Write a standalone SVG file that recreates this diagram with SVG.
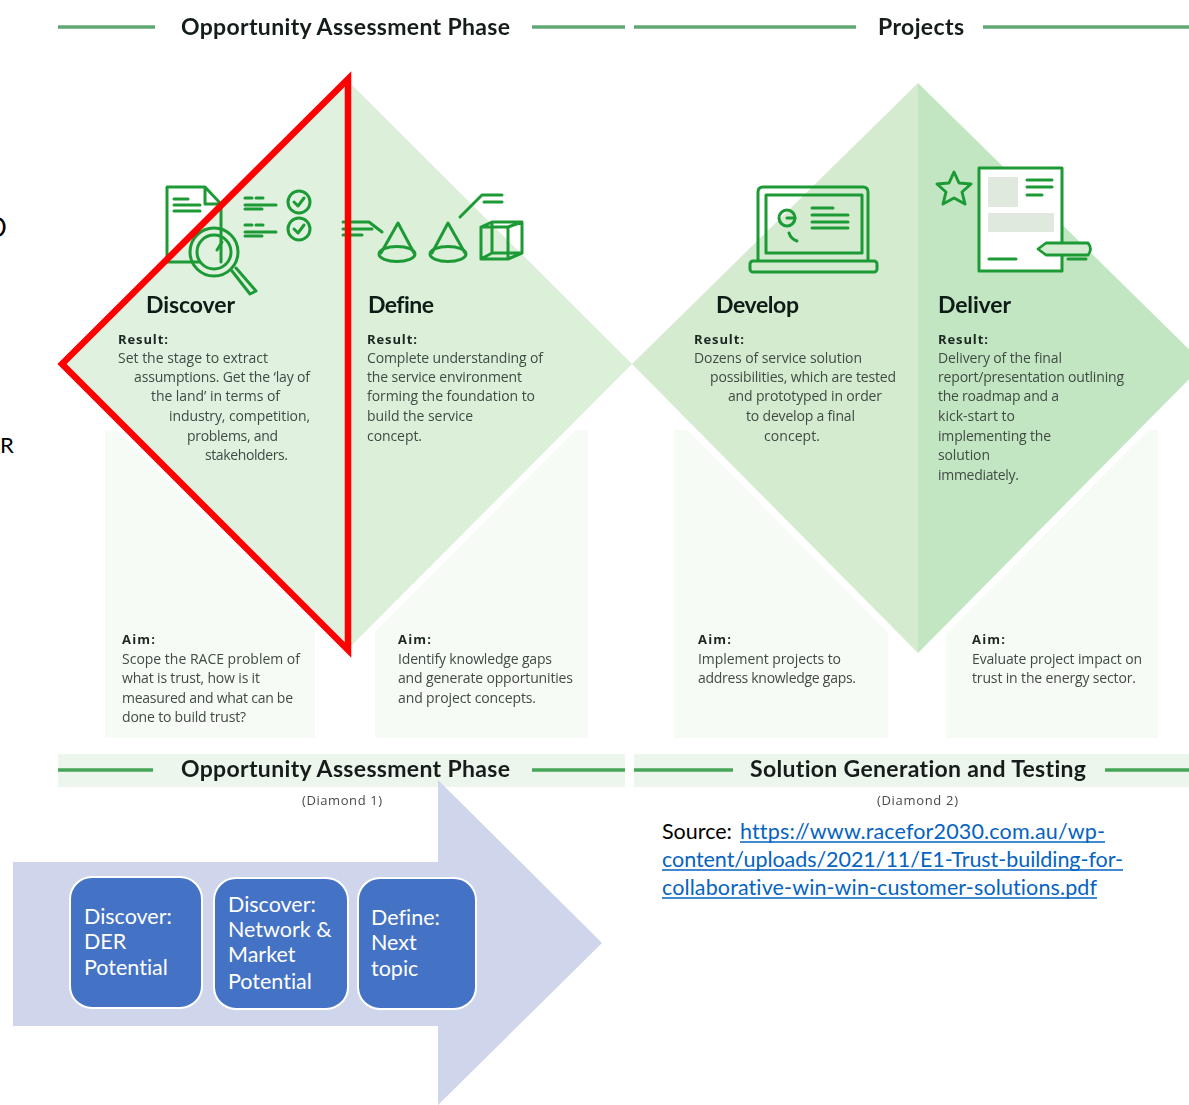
<svg xmlns="http://www.w3.org/2000/svg" width="1189" height="1105" viewBox="0 0 1189 1105">
<style>
text{font-family:"Open Sans","Liberation Sans",sans-serif;font-variant-ligatures:none}
.h{font-family:Lato,"Liberation Sans",sans-serif;font-weight:700;font-size:23px;fill:#141f1a}
.t{font-family:Lato,"Liberation Sans",sans-serif;font-weight:700;font-size:23px;fill:#101c17}
.r{font-size:13px;font-weight:700;fill:#1c2621}
.b{font-size:14px;fill:#414b45}
.d{font-size:13px;fill:#4a4a4a}
.w{font-family:Lato,"Liberation Sans",sans-serif;font-size:21.5px;fill:#fff}
.s{font-family:Lato,"Liberation Sans",sans-serif;font-size:21.5px;fill:#000}
.l{font-family:Lato,"Liberation Sans",sans-serif;font-size:21.5px;fill:#0563c1}
.i{fill:none;stroke:#1f9a35;stroke-width:3;stroke-linejoin:round;stroke-linecap:round}
.rule{stroke:#5fa873;stroke-width:3.5}
.rule2{stroke:#45a658;stroke-width:3.5}
.panel{fill:#f6fbf5}
.box{fill:#4472c4;stroke:#fff;stroke-width:2}
</style>
<defs><filter id="soft" x="-5%" y="-5%" width="110%" height="110%"><feGaussianBlur stdDeviation="0.6"/></filter></defs>
<rect width="1189" height="1105" fill="#fff"/>
<g id="phase-image" filter="url(#soft)">
<g id="aim-panels">
<rect class="panel" x="105" y="430" width="210" height="308"/>
<rect class="panel" x="375" y="430" width="213" height="308"/>
<rect class="panel" x="674" y="430" width="214" height="308"/>
<rect class="panel" x="946" y="430" width="212" height="308"/>
<path d="M60 364L347 650L632 364L918 653L1204 364" fill="none" stroke="#fff" stroke-width="14"/>
<path d="M90 394V440H105ZM604 392L570 430H604ZM660 392V430H690ZM1176 392L1140 430H1176Z" fill="#fff"/>
<rect x="315" y="640" width="60" height="100" fill="#fff"/>
<rect x="888" y="655" width="58" height="85" fill="#fff"/>
</g>
<g id="diamond-1">
<path d="M60 364L347 80V650Z" fill="#e0f1e0"/>
<path d="M347 80L632 364L347 650Z" fill="#dbefd9"/>
</g>
<g id="diamond-2">
<path d="M632 364L918 83V653Z" fill="#d4ebd0"/>
<path d="M918 83L1204 364L918 653Z" fill="#c3e6c2"/>
</g>
<g id="header-top">
<line class="rule" x1="58" y1="27" x2="155" y2="27"/>
<line class="rule" x1="532" y1="27" x2="625" y2="27"/>
<line class="rule" x1="634" y1="27" x2="856" y2="27"/>
<line class="rule" x1="983" y1="27" x2="1189" y2="27"/>
<text class="h" x="181" y="35" textLength="329">Opportunity Assessment Phase</text>
<text class="h" x="878" y="35" textLength="86">Projects</text>
</g>
<g id="header-bottom">
<rect x="58" y="754" width="567" height="33" fill="#edf6ec"/>
<rect x="634" y="754" width="555" height="33" fill="#edf6ec"/>
<line class="rule2" x1="58" y1="770" x2="153" y2="770"/>
<line class="rule2" x1="532" y1="770" x2="625" y2="770"/>
<line class="rule2" x1="634" y1="770" x2="733" y2="770"/>
<line class="rule2" x1="1105" y1="770" x2="1189" y2="770"/>
<text class="h" x="181" y="777" textLength="329">Opportunity Assessment Phase</text>
<text class="h" x="750" y="777" textLength="336">Solution Generation and Testing</text>
<text class="d" x="302" y="805" textLength="80">(Diamond 1)</text>
<text class="d" x="877" y="805" textLength="81">(Diamond 2)</text>
</g>
<g id="discover">
<path class="i" d="M221 262V204L205 187H167V262H200M205 187V204H221" stroke-width="2.6"/>
<path class="i" d="M174 199H188M174 205H200M174 211H200"/>
<circle class="i" cx="214" cy="252" r="24" stroke-width="3.4"/>
<circle class="i" cx="214" cy="252" r="17" stroke-width="2.6"/>
<path class="i" d="M232 271L250 294L256 291L236 268"/>
<path class="i" d="M222 242L217 250"/>
<path class="i" d="M245 198H252M256 198H263M245 205H276M245 209H262M245 225H252M256 225H263M245 232H276M245 236H262" stroke-width="2.4"/>
<circle class="i" cx="299" cy="202" r="11"/>
<circle class="i" cx="299" cy="229" r="11"/>
<path class="i" d="M294 202L298 206L304 198M294 229L298 233L304 225"/>
<text class="t" x="146" y="313" textLength="89">Discover</text>
<text class="r" x="118" y="344" textLength="50">Result:</text>
<text class="b" x="118" y="363" textLength="150">Set the stage to extract</text>
<text class="b" x="134" y="382" textLength="176">assumptions. Get the ‘lay of</text>
<text class="b" x="151" y="401" textLength="129">the land’ in terms of</text>
<text class="b" x="169" y="421" textLength="141">industry, competition,</text>
<text class="b" x="187" y="441" textLength="91">problems, and</text>
<text class="b" x="205" y="460" textLength="83">stakeholders.</text>
<text class="r" x="122" y="644" textLength="33">Aim:</text>
<text class="b" x="122" y="664" textLength="178">Scope the RACE problem of</text>
<text class="b" x="122" y="683" textLength="138">what is trust, how is it</text>
<text class="b" x="122" y="703" textLength="171">measured and what can be</text>
<text class="b" x="122" y="722" textLength="124">done to build trust?</text>
</g>
<g id="define">
<path class="i" d="M343 222H369L382 232M343 229H372M343 235H362"/>
<path class="i" d="M381 253L398 223L414 253M432 253L448 223L465 253"/>
<ellipse class="i" cx="397" cy="254" rx="18" ry="7.5"/>
<ellipse class="i" cx="448" cy="254" rx="18" ry="7.5"/>
<path class="i" d="M460 217L482 195H502M484 202H502"/>
<path class="i" d="M481 227H508V259H481ZM492 222H522V253H492ZM481 227L492 222M508 227L522 222M508 259L522 253M481 259L492 253" stroke-width="2.6"/>
<text class="t" x="368" y="313" textLength="66">Define</text>
<text class="r" x="367" y="344" textLength="50">Result:</text>
<text class="b" x="367" y="363" textLength="176">Complete understanding of</text>
<text class="b" x="367" y="382" textLength="155">the service environment</text>
<text class="b" x="367" y="401" textLength="168">forming the foundation to</text>
<text class="b" x="367" y="421" textLength="106">build the service</text>
<text class="b" x="367" y="441" textLength="55">concept.</text>
<text class="r" x="398" y="644" textLength="33">Aim:</text>
<text class="b" x="398" y="664" textLength="154">Identify knowledge gaps</text>
<text class="b" x="398" y="683" textLength="175">and generate opportunities</text>
<text class="b" x="398" y="703" textLength="138">and project concepts.</text>
</g>
<g id="develop">
<path class="i" d="M758 260V192Q758 187 763 187H863Q868 187 868 192V260"/>
<rect class="i" x="766" y="195" width="96" height="58" stroke-width="2.6"/>
<rect class="i" x="750" y="261" width="127" height="11" rx="3"/>
<circle class="i" cx="787" cy="218" r="8"/>
<path class="i" d="M787 218H795M789 233Q791 239 797 241"/>
<path class="i" d="M812 208H833M812 215H848M812 222H848M812 228H848"/>
<text class="t" x="716" y="313" textLength="83">Develop</text>
<text class="r" x="694" y="344" textLength="50">Result:</text>
<text class="b" x="694" y="363" textLength="168">Dozens of service solution</text>
<text class="b" x="710" y="382" textLength="186">possibilities, which are tested</text>
<text class="b" x="728" y="401" textLength="154">and prototyped in order</text>
<text class="b" x="746" y="421" textLength="109">to develop a final</text>
<text class="b" x="764" y="441" textLength="56">concept.</text>
<text class="r" x="698" y="644" textLength="33">Aim:</text>
<text class="b" x="698" y="664" textLength="143">Implement projects to</text>
<text class="b" x="698" y="683" textLength="158">address knowledge gaps.</text>
</g>
<g id="deliver">
<path d="M979 168H1062V271H979Z" fill="#fff"/>
<rect x="988" y="177" width="30" height="30" fill="#dfe9de"/>
<rect x="988" y="213" width="66" height="19" fill="#dfe9de"/>
<path d="M1062 243V168H979V271H1062V255" class="i" stroke-width="3.2"/>
<path class="i" d="M1027 180H1052M1027 187H1052M1027 195H1042M989 259H1016"/>
<path class="i" d="M954 172L959 183L971 184L962 192L965 204L954 198L943 204L946 192L937 184L949 183Z" stroke-width="3.4"/>
<path d="M1038 249L1046 243H1088Q1093 249 1088 255H1046Z" fill="#d6ecd2" stroke="#1f9a35" stroke-width="2.8" stroke-linejoin="round"/>
<path class="i" d="M1068 259H1086" stroke-width="3.4"/>
<text class="t" x="938" y="313" textLength="73">Deliver</text>
<text class="r" x="938" y="344" textLength="50">Result:</text>
<text class="b" x="938" y="363" textLength="124">Delivery of the final</text>
<text class="b" x="938" y="382" textLength="186">report/presentation outlining</text>
<text class="b" x="938" y="401" textLength="121">the roadmap and a</text>
<text class="b" x="938" y="421" textLength="77">kick-start to</text>
<text class="b" x="938" y="441" textLength="113">implementing the</text>
<text class="b" x="938" y="460" textLength="52">solution</text>
<text class="b" x="938" y="480" textLength="81">immediately.</text>
<text class="r" x="972" y="644" textLength="33">Aim:</text>
<text class="b" x="972" y="664" textLength="170">Evaluate project impact on</text>
<text class="b" x="972" y="683" textLength="164">trust in the energy sector.</text>
</g>
</g>
<g id="connectors"></g>
<g id="red-triangle"><path d="M348 79L62 364L348 650Z" fill="none" stroke="#ff0000" stroke-width="6.5" stroke-miterlimit="10"/></g>
<g id="clipped-text">
<text x="-13" y="237" font-size="26" fill="#000" style="font-family:Lato,'Liberation Sans',sans-serif">D</text>
<text x="0" y="453" font-size="22" fill="#000" style="font-family:Lato,'Liberation Sans',sans-serif">R</text>
</g>
<g id="arrow"><path d="M13 862H438V780L602 943L438 1105V1026H13Z" fill="#cfd5ea"/></g>
<g id="box-1">
<rect class="box" x="70" y="877" width="132" height="131" rx="22"/>
<text class="w" x="84" y="924">Discover:</text><text class="w" x="84" y="949">DER</text><text class="w" x="84" y="975">Potential</text>
</g>
<g id="box-2">
<rect class="box" x="214" y="878" width="134" height="131" rx="22"/>
<text class="w" x="228" y="912">Discover:</text><text class="w" x="228" y="937">Network &amp;</text><text class="w" x="228" y="962">Market</text><text class="w" x="228" y="989">Potential</text>
</g>
<g id="box-3">
<rect class="box" x="358" y="878" width="118" height="131" rx="22"/>
<text class="w" x="371" y="925">Define:</text><text class="w" x="371" y="950">Next</text><text class="w" x="371" y="976">topic</text>
</g>
<g id="source">
<text class="s" x="662" y="839">Source:</text>
<text class="l" x="740" y="839" textLength="365">https://www.racefor2030.com.au/wp-</text>
<text class="l" x="662" y="867" textLength="461">content/uploads/2021/11/E1-Trust-building-for-</text>
<text class="l" x="662" y="895" textLength="435">collaborative-win-win-customer-solutions.pdf</text>
<path d="M740 842H1105M662 870H1123M662 898H1097" stroke="#0563c1" stroke-width="1.6" fill="none"/>
</g>
</svg>
